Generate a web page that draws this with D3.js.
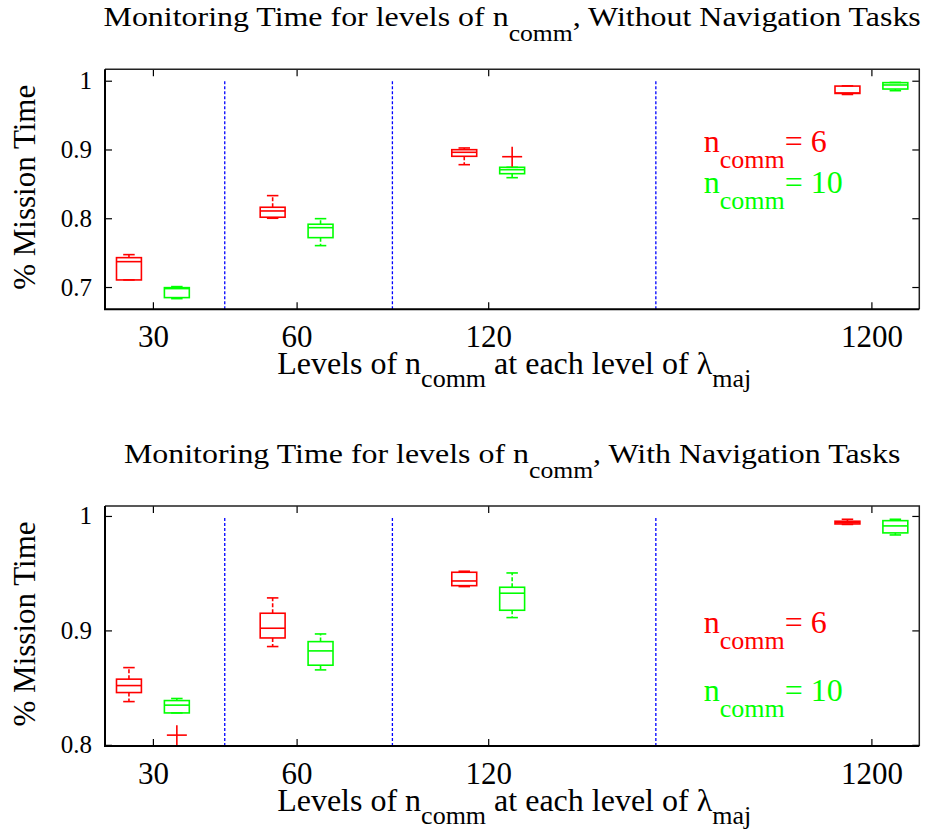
<!DOCTYPE html>
<html lang="en">

<head>
  <meta charset="UTF-8">
  <script src="https://d3js.org/d3.v7.min.js"></script>
  <title>Monitoring Time</title>
  <style>
    body { margin: 0; background: #fff; }
    text { font-family: "Liberation Serif", "Times New Roman", serif; white-space: pre; }
  </style>
</head>

<body>
  <svg width="927" height="835"></svg>
</body>
<script>
  // levels of lambda_maj (group labels on the x axis)
  const levels = ["30", "60", "120", "1200"];
  const commValues = ["6", "10"];

  // box stats per level: [lower whisker, q1, median, q3, upper whisker]
  const noNavComm6 = [
    [0.7103, 0.7103, 0.7369, 0.7427, 0.7471],
    [0.8000, 0.8015, 0.8106, 0.8160, 0.8329],
    [0.8779, 0.8901, 0.8959, 0.8997, 0.9022],
    [0.9800, 0.9815, 0.9822, 0.9922, 0.9925]
  ];
  const noNavComm10 = [
    [0.6831, 0.6846, 0.6977, 0.6991, 0.7006],
    [0.7602, 0.7718, 0.7863, 0.7913, 0.7994],
    [0.8590, 0.8648, 0.8706, 0.8741, 0.8741],
    [0.9855, 0.9879, 0.9938, 0.9972, 0.9975]
  ];
  const noNavOut6 = [[], [], [], []];
  const noNavOut10 = [[], [], [0.8895], []];

  const navComm6 = [
    [0.8378, 0.8457, 0.8518, 0.8574, 0.8675],
    [0.8859, 0.8934, 0.9019, 0.9150, 0.9284],
    [0.9383, 0.9391, 0.9432, 0.9508, 0.9517],
    [0.9926, 0.9930, 0.9941, 0.9954, 0.9971]
  ];
  const navComm10 = [
    [0.8279, 0.8279, 0.8347, 0.8387, 0.8405],
    [0.8655, 0.8696, 0.8821, 0.8902, 0.8969],
    [0.9112, 0.9176, 0.9325, 0.9377, 0.9502],
    [0.9834, 0.9852, 0.9913, 0.9959, 0.9971]
  ];
  const navOut6 = [[], [], [], []];
  const navOut10 = [[0.8085], [], [], []];

  const noNavTicks = [0.7, 0.8, 0.9, 1];
  const navTicks = [0.8, 0.9, 1];

  /**
   * layout
   */
  const svg = d3.select("svg");
  const colors = ["#ff0000", "#00ff00"];
  const groupPos = [1.5, 4.5, 8.5, 16.5];   // box slots, matlab style
  const dividerPos = [3, 6.5, 12];
  const seriesOffset = [-0.5, 0.5];
  const boxW = 0.52, capW = 0.24;

  const x = d3.scaleLinear().domain([0.5, 17.5]).range([105, 919.3]);

  // text with matlab-ish subscripts: parts = [[string, isSub], ...]
  function richText(sel, parts, size, subSize, subDy) {
    let down = false;
    parts.forEach(([s, sub]) => {
      const t = sel.append("tspan").text(s);
      if (sub && !down) { t.attr("dy", subDy).style("font-size", subSize + "px"); down = true; }
      else if (!sub && down) { t.attr("dy", -subDy).style("font-size", size + "px"); down = false; }
      else t.style("font-size", (sub ? subSize : size) + "px");
    });
    return sel;
  }

  function drawPanel(cfg) {
    const y = d3.scaleLinear().domain(cfg.yDomain).range([cfg.bottom, cfg.top]);
    const g = svg.append("g");

    // ticks
    const fmt = d => d === 1 ? "1" : d3.format(".1f")(d);
    g.append("g")
      .attr("transform", "translate(" + x.range()[0] + ",0)")
      .call(d3.axisLeft(y).tickValues(cfg.ticks).tickFormat(fmt).tickSize(-7).tickSizeOuter(0).tickPadding(13))
      .call(a => a.select(".domain").remove())
      .call(a => a.selectAll("text").attr("font-family", null).style("font-size", "25px"));
    g.append("g")
      .attr("transform", "translate(" + x.range()[1] + ",0)")
      .call(d3.axisRight(y).tickValues(cfg.ticks).tickFormat("").tickSize(-7).tickSizeOuter(0))
      .call(a => a.select(".domain").remove());
    g.append("g")
      .attr("transform", "translate(0," + cfg.bottom + ")")
      .call(d3.axisBottom(x).tickValues(groupPos).tickFormat((d, i) => levels[i]).tickSize(-7).tickSizeOuter(0).tickPadding(16))
      .call(a => a.select(".domain").remove())
      .call(a => a.selectAll("text").attr("font-family", null).style("font-size", "31px"));
    g.append("g")
      .attr("transform", "translate(0," + cfg.top + ")")
      .call(d3.axisTop(x).tickValues(groupPos).tickFormat("").tickSize(-7).tickSizeOuter(0))
      .call(a => a.select(".domain").remove());
    g.selectAll(".tick line").attr("stroke", "#000").attr("stroke-width", 1.2);

    // dividers between levels
    g.append("g")
      .selectAll("line")
      .data(dividerPos)
      .join("line")
      .attr("x1", d => x(d)).attr("x2", d => x(d))
      .attr("y1", y(cfg.yDomain[0])).attr("y2", y(1))
      .attr("stroke", "#0000ff")
      .attr("stroke-width", 1.3)
      .attr("stroke-dasharray", "3,2");

    // boxes
    cfg.series.forEach((stats, s) => {
      const c = colors[s];
      const bg = g.append("g").attr("class", "boxes-" + s);
      stats.forEach((st, i) => {
        const [lw, q1, med, q3, uw] = st;
        const cx = groupPos[i] + seriesOffset[s];
        const b = bg.append("g").attr("stroke", c).attr("fill", "none").attr("stroke-width", 1.6);
        b.append("line").attr("x1", x(cx)).attr("x2", x(cx)).attr("y1", y(q3)).attr("y2", y(uw)).attr("stroke-dasharray", "4,2");
        b.append("line").attr("x1", x(cx)).attr("x2", x(cx)).attr("y1", y(q1)).attr("y2", y(lw)).attr("stroke-dasharray", "4,2");
        [lw, uw].forEach(v => b.append("line")
          .attr("x1", x(cx - capW / 2)).attr("x2", x(cx + capW / 2))
          .attr("y1", y(v)).attr("y2", y(v)));
        b.append("rect")
          .attr("x", x(cx - boxW / 2)).attr("width", x(boxW) - x(0))
          .attr("y", y(q3)).attr("height", y(q1) - y(q3));
        b.append("line")
          .attr("x1", x(cx - boxW / 2)).attr("x2", x(cx + boxW / 2))
          .attr("y1", y(med)).attr("y2", y(med));
        cfg.outliers[s][i].forEach(v => {
          const o = g.append("g").attr("stroke", "#ff0000").attr("stroke-width", 1.6);
          o.append("line").attr("x1", x(cx) - 10).attr("x2", x(cx) + 10).attr("y1", y(v)).attr("y2", y(v));
          o.append("line").attr("x1", x(cx)).attr("x2", x(cx)).attr("y1", y(v) - 10).attr("y2", y(v) + 10);
        });
      });
    });

    // frame
    const [x0, x1] = x.range();
    g.append("path")
      .attr("d", `M${x0},${cfg.top}H${x1}V${cfg.bottom}`)
      .attr("fill", "none").attr("stroke", "#222").attr("stroke-width", 1.5);
    g.append("path")
      .attr("d", `M${x0},${cfg.top}V${cfg.bottom}H${x1}`)
      .attr("fill", "none").attr("stroke", "#000").attr("stroke-width", 2);

    // legend text
    cfg.legendY.forEach((v, s) => {
      richText(g.append("text").attr("x", x(13)).attr("y", y(v)).attr("fill", colors[s]),
        [["n", 0], ["comm", 1], ["= " + commValues[s], 0]], 32, 26, 16.5);
    });

    // title (the original is drawn a bit wider than the font)
    const cxAx = (x0 + x1) / 2;
    richText(g.append("text")
      .attr("transform", `translate(${cxAx},${cfg.top - 43}) scale(1.14,1)`)
      .attr("text-anchor", "middle").attr("fill", "#000"),
      [["Monitoring Time for levels of n", 0], ["comm", 1], [", " + cfg.title, 0]], 28, 22.5, 15);

    // x label
    richText(g.append("text").attr("x", cxAx + 2).attr("y", cfg.bottom + 65).attr("text-anchor", "middle").attr("fill", "#000"),
      [["Levels of n", 0], ["comm", 1], [" at each level of λ", 0], ["maj", 1]], 32, 26, 13);

    // y label
    g.append("text")
      .attr("transform", `translate(35,${(cfg.top + cfg.bottom) / 2 - 2}) rotate(-90)`)
      .attr("text-anchor", "middle")
      .attr("fill", "#000")
      .style("font-size", "31px")
      .text("% Mission Time");
  }

  drawPanel({
    top: 69.3, bottom: 309.3, yDomain: [0.6676, 1.0166], ticks: noNavTicks,
    series: [noNavComm6, noNavComm10], outliers: [noNavOut6, noNavOut10],
    legendY: [0.8968, 0.8372], title: "Without Navigation Tasks"
  });

  drawPanel({
    top: 506, bottom: 746, yDomain: [0.799, 1.0087], ticks: navTicks,
    series: [navComm6, navComm10], outliers: [navOut6, navOut10],
    legendY: [0.898, 0.8384], title: "With Navigation Tasks"
  });
</script>

</html>
